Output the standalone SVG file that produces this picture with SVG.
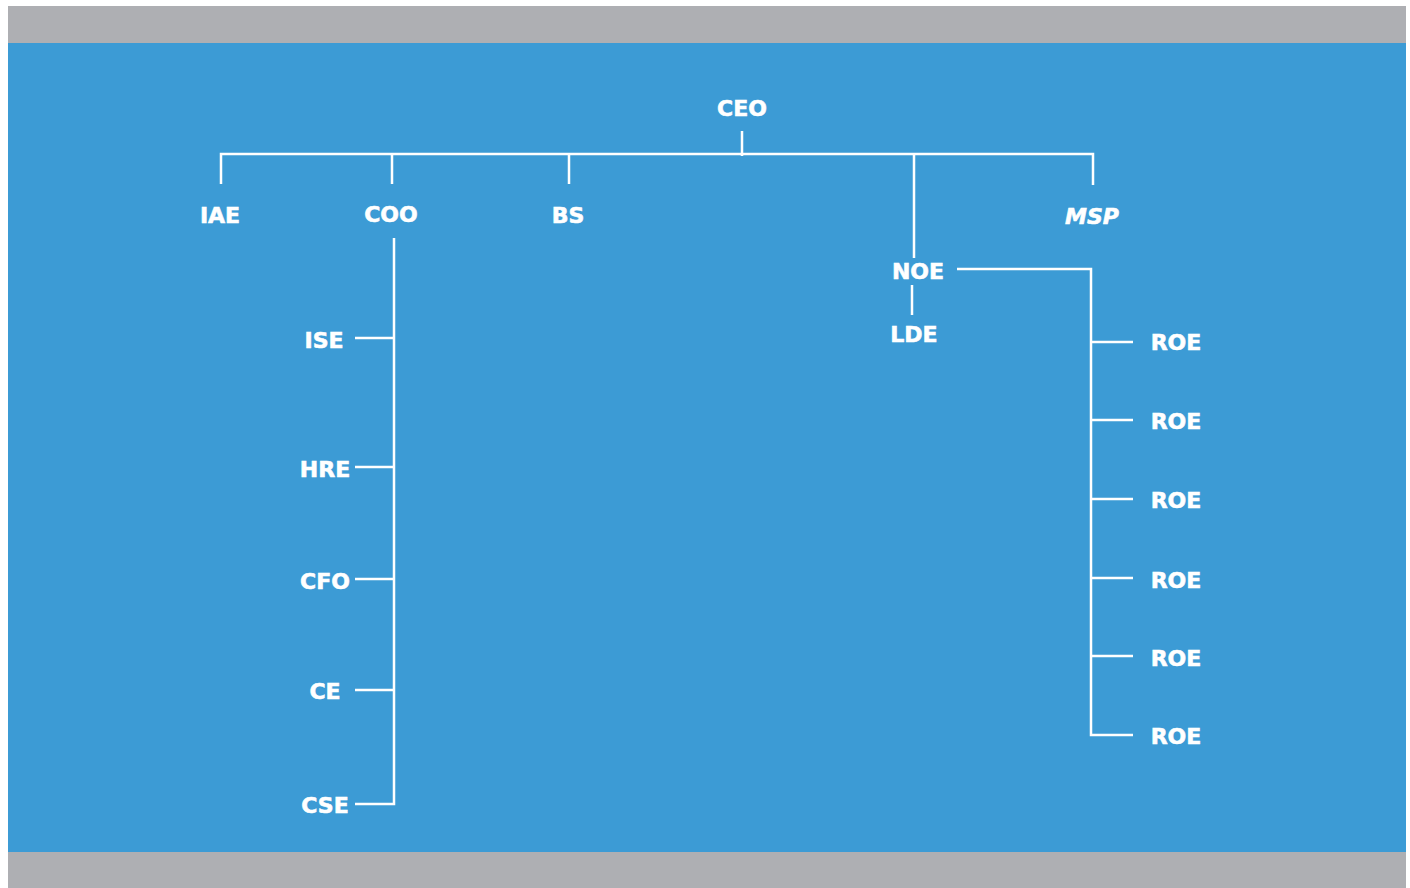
<svg xmlns="http://www.w3.org/2000/svg" width="1410" height="888" viewBox="0 0 1410 888">
<style>
.t{font-family:"DejaVu Sans","Open Sans",sans-serif;font-weight:700;font-size:22px;fill:#fff;stroke:#fff;stroke-width:0.6;text-anchor:middle}
.l{stroke:#fff;stroke-width:2.5;fill:none}
</style>
<rect x="0" y="0" width="1410" height="888" fill="#fff"/>
<rect x="8" y="6" width="1398" height="37" fill="#aeafb3"/>
<rect x="8" y="43" width="1398" height="809" fill="#3c9bd5"/>
<rect x="8" y="852" width="1398" height="36" fill="#aeafb3"/>
<g id="connectors" class="l">
<path d="M742 131V156M221 184V154H1093V185M392 154V184M569 154V184M914 154V258"/>
<path d="M957 269H1091V735H1133M1091 342H1133M1091 420H1133M1091 499H1133M1091 578H1133M1091 656H1133"/>
<path d="M912 285V315"/>
<path d="M394 238V804H355M355 338H394M355 467H394M355 579H394M355 690H394"/>
</g>
<g id="ceo"><text class="t" x="742" y="116">CEO</text></g>
<g id="iae"><text class="t" x="220" y="223">IAE</text></g>
<g id="coo"><text class="t" x="391" y="222">COO</text></g>
<g id="bs"><text class="t" x="568" y="223">BS</text></g>
<g id="msp"><text class="t" x="1092" y="224" font-style="italic">MSP</text></g>
<g id="noe"><text class="t" x="918" y="279">NOE</text></g>
<g id="lde"><text class="t" x="914" y="342">LDE</text></g>
<g id="ise"><text class="t" x="324" y="348">ISE</text></g>
<g id="hre"><text class="t" x="325" y="477">HRE</text></g>
<g id="cfo"><text class="t" x="325" y="589">CFO</text></g>
<g id="ce"><text class="t" x="325" y="699">CE</text></g>
<g id="cse"><text class="t" x="325" y="813">CSE</text></g>
<g id="roe1"><text class="t" x="1176" y="350">ROE</text></g>
<g id="roe2"><text class="t" x="1176" y="429">ROE</text></g>
<g id="roe3"><text class="t" x="1176" y="508">ROE</text></g>
<g id="roe4"><text class="t" x="1176" y="588">ROE</text></g>
<g id="roe5"><text class="t" x="1176" y="666">ROE</text></g>
<g id="roe6"><text class="t" x="1176" y="744">ROE</text></g>
</svg>
